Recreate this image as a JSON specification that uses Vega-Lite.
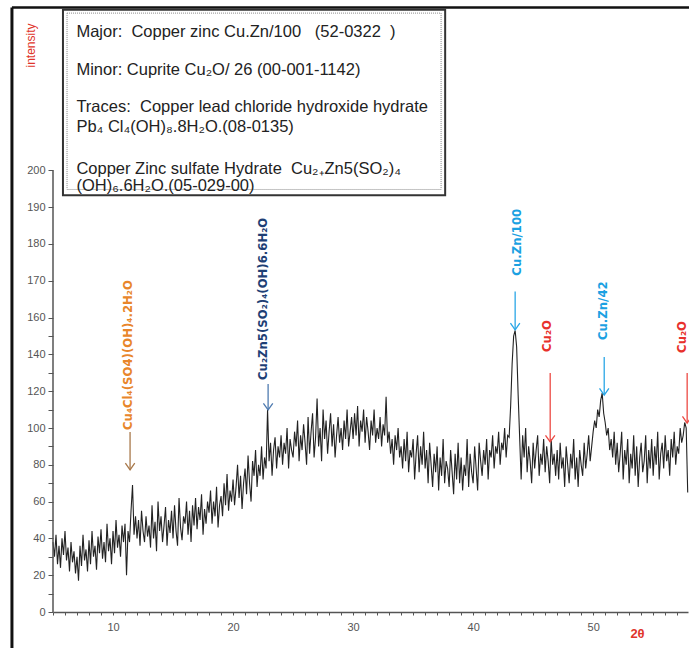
{
"$schema": "https://vega.github.io/schema/vega-lite/v6.json",
"width": 635, "height": 600,
"autosize": "none",
"padding": {"left": 53, "top": 12, "right": 1, "bottom": 36},
"background": "white",
"config": {"view": {"stroke": null},
 "axis": {"grid": false, "labelOverlap": false, "labelBound": false},
 "axisX": {"titleColor": "#e0352b", "titleFont": "Liberation Sans", "titleFontSize": 13, "titleFontWeight": "bold", "titleX": 584, "titleY": 21, "titleAlign": "center", "titleBaseline": "middle",
  "tickSize": 3, "tickColor": "#555", "domainColor": "#555", "domainWidth": 1.5, "labelColor": "#555", "labelFont": "Liberation Sans", "labelFontSize": 11, "labelPadding": 6},
 "axisY": {"titleColor": "#e0352b", "titleFont": "Liberation Sans", "titleFontSize": 12, "titleFontWeight": "normal", "titleX": -23, "titleY": 33, "titleAngle": 270, "titleAlign": "center", "titleBaseline": "middle",
  "domain": false, "tickSize": 5, "tickColor": "#555", "labelColor": "#555", "labelFont": "Liberation Sans", "labelFontSize": 11, "labelPadding": 3}},
"datasets": {
"xrd": [
{"t":5,"v":38},{"t":5.125,"v":30},{"t":5.25,"v":42},{"t":5.375,"v":26},{"t":5.5,"v":36},{"t":5.625,"v":24},{"t":5.75,"v":40},{"t":5.875,"v":31},
{"t":6,"v":44},{"t":6.125,"v":28},{"t":6.25,"v":35},{"t":6.375,"v":22},{"t":6.5,"v":38},{"t":6.625,"v":27},{"t":6.75,"v":33},{"t":6.875,"v":21},
{"t":7,"v":30},{"t":7.125,"v":17},{"t":7.25,"v":36},{"t":7.375,"v":25},{"t":7.5,"v":42},{"t":7.625,"v":28},{"t":7.75,"v":34},{"t":7.875,"v":22},
{"t":8,"v":39},{"t":8.125,"v":26},{"t":8.25,"v":44},{"t":8.375,"v":30},{"t":8.5,"v":36},{"t":8.625,"v":23},{"t":8.75,"v":41},{"t":8.875,"v":32},
{"t":9,"v":45},{"t":9.125,"v":29},{"t":9.25,"v":38},{"t":9.375,"v":27},{"t":9.5,"v":48},{"t":9.625,"v":33},{"t":9.75,"v":40},{"t":9.875,"v":26},
{"t":10,"v":44},{"t":10.125,"v":32},{"t":10.25,"v":50},{"t":10.375,"v":35},{"t":10.5,"v":42},{"t":10.625,"v":30},{"t":10.75,"v":47},{"t":10.875,"v":38},
{"t":11,"v":48},{"t":11.125,"v":20},{"t":11.25,"v":44},{"t":11.375,"v":38},{"t":11.5,"v":55},{"t":11.625,"v":69},{"t":11.75,"v":42},{"t":11.875,"v":52},
{"t":12,"v":40},{"t":12.125,"v":50},{"t":12.25,"v":36},{"t":12.375,"v":55},{"t":12.5,"v":44},{"t":12.625,"v":38},{"t":12.75,"v":52},{"t":12.875,"v":41},
{"t":13,"v":47},{"t":13.125,"v":35},{"t":13.25,"v":58},{"t":13.375,"v":40},{"t":13.5,"v":49},{"t":13.625,"v":33},{"t":13.75,"v":60},{"t":13.875,"v":44},
{"t":14,"v":52},{"t":14.125,"v":38},{"t":14.25,"v":47},{"t":14.375,"v":57},{"t":14.5,"v":36},{"t":14.625,"v":50},{"t":14.75,"v":43},{"t":14.875,"v":55},
{"t":15,"v":40},{"t":15.125,"v":58},{"t":15.25,"v":44},{"t":15.375,"v":36},{"t":15.5,"v":62},{"t":15.625,"v":46},{"t":15.75,"v":39},{"t":15.875,"v":52},
{"t":16,"v":48},{"t":16.125,"v":60},{"t":16.25,"v":42},{"t":16.375,"v":55},{"t":16.5,"v":38},{"t":16.625,"v":58},{"t":16.75,"v":47},{"t":16.875,"v":62},
{"t":17,"v":45},{"t":17.125,"v":57},{"t":17.25,"v":50},{"t":17.375,"v":64},{"t":17.5,"v":42},{"t":17.625,"v":56},{"t":17.75,"v":48},{"t":17.875,"v":60},
{"t":18,"v":54},{"t":18.125,"v":66},{"t":18.25,"v":48},{"t":18.375,"v":60},{"t":18.5,"v":52},{"t":18.625,"v":68},{"t":18.75,"v":46},{"t":18.875,"v":58},
{"t":19,"v":63},{"t":19.125,"v":52},{"t":19.25,"v":70},{"t":19.375,"v":58},{"t":19.5,"v":75},{"t":19.625,"v":55},{"t":19.75,"v":66},{"t":19.875,"v":60},
{"t":20,"v":72},{"t":20.125,"v":58},{"t":20.25,"v":68},{"t":20.375,"v":80},{"t":20.5,"v":62},{"t":20.625,"v":74},{"t":20.75,"v":56},{"t":20.875,"v":70},
{"t":21,"v":78},{"t":21.125,"v":64},{"t":21.25,"v":85},{"t":21.375,"v":70},{"t":21.5,"v":60},{"t":21.625,"v":82},{"t":21.75,"v":74},{"t":21.875,"v":88},
{"t":22,"v":68},{"t":22.125,"v":80},{"t":22.25,"v":74},{"t":22.375,"v":90},{"t":22.5,"v":72},{"t":22.625,"v":84},{"t":22.75,"v":78},{"t":22.875,"v":110},
{"t":23,"v":82},{"t":23.125,"v":92},{"t":23.25,"v":74},{"t":23.375,"v":88},{"t":23.5,"v":95},{"t":23.625,"v":78},{"t":23.75,"v":90},{"t":23.875,"v":84},
{"t":24,"v":96},{"t":24.125,"v":80},{"t":24.25,"v":92},{"t":24.375,"v":86},{"t":24.5,"v":100},{"t":24.625,"v":78},{"t":24.75,"v":94},{"t":24.875,"v":88},
{"t":25,"v":84},{"t":25.125,"v":98},{"t":25.25,"v":90},{"t":25.375,"v":104},{"t":25.5,"v":82},{"t":25.625,"v":96},{"t":25.75,"v":88},{"t":25.875,"v":102},
{"t":26,"v":92},{"t":26.125,"v":80},{"t":26.25,"v":106},{"t":26.375,"v":86},{"t":26.5,"v":98},{"t":26.625,"v":108},{"t":26.75,"v":84},{"t":26.875,"v":95},
{"t":27,"v":116},{"t":27.125,"v":90},{"t":27.25,"v":100},{"t":27.375,"v":82},{"t":27.5,"v":110},{"t":27.625,"v":94},{"t":27.75,"v":104},{"t":27.875,"v":86},
{"t":28,"v":98},{"t":28.125,"v":108},{"t":28.25,"v":90},{"t":28.375,"v":102},{"t":28.5,"v":84},{"t":28.625,"v":96},{"t":28.75,"v":106},{"t":28.875,"v":92},
{"t":29,"v":100},{"t":29.125,"v":88},{"t":29.25,"v":104},{"t":29.375,"v":94},{"t":29.5,"v":110},{"t":29.625,"v":90},{"t":29.75,"v":98},{"t":29.875,"v":106},
{"t":30,"v":94},{"t":30.125,"v":108},{"t":30.25,"v":96},{"t":30.375,"v":112},{"t":30.5,"v":90},{"t":30.625,"v":104},{"t":30.75,"v":98},{"t":30.875,"v":110},
{"t":31,"v":92},{"t":31.125,"v":106},{"t":31.25,"v":98},{"t":31.375,"v":88},{"t":31.5,"v":104},{"t":31.625,"v":96},{"t":31.75,"v":110},{"t":31.875,"v":92},
{"t":32,"v":100},{"t":32.125,"v":94},{"t":32.25,"v":106},{"t":32.375,"v":90},{"t":32.5,"v":102},{"t":32.625,"v":96},{"t":32.75,"v":117},{"t":32.875,"v":92},
{"t":33,"v":98},{"t":33.125,"v":86},{"t":33.25,"v":94},{"t":33.375,"v":80},{"t":33.5,"v":96},{"t":33.625,"v":88},{"t":33.75,"v":100},{"t":33.875,"v":84},
{"t":34,"v":90},{"t":34.125,"v":78},{"t":34.25,"v":94},{"t":34.375,"v":82},{"t":34.5,"v":98},{"t":34.625,"v":76},{"t":34.75,"v":88},{"t":34.875,"v":84},
{"t":35,"v":94},{"t":35.125,"v":72},{"t":35.25,"v":86},{"t":35.375,"v":96},{"t":35.5,"v":76},{"t":35.625,"v":90},{"t":35.75,"v":80},{"t":35.875,"v":98},
{"t":36,"v":78},{"t":36.125,"v":88},{"t":36.25,"v":70},{"t":36.375,"v":92},{"t":36.5,"v":80},{"t":36.625,"v":68},{"t":36.75,"v":86},{"t":36.875,"v":76},
{"t":37,"v":90},{"t":37.125,"v":66},{"t":37.25,"v":84},{"t":37.375,"v":74},{"t":37.5,"v":94},{"t":37.625,"v":70},{"t":37.75,"v":82},{"t":37.875,"v":78},
{"t":38,"v":68},{"t":38.125,"v":88},{"t":38.25,"v":76},{"t":38.375,"v":64},{"t":38.5,"v":86},{"t":38.625,"v":72},{"t":38.75,"v":92},{"t":38.875,"v":70},
{"t":39,"v":84},{"t":39.125,"v":66},{"t":39.25,"v":80},{"t":39.375,"v":74},{"t":39.5,"v":94},{"t":39.625,"v":68},{"t":39.75,"v":86},{"t":39.875,"v":76},
{"t":40,"v":70},{"t":40.125,"v":90},{"t":40.25,"v":78},{"t":40.375,"v":66},{"t":40.5,"v":92},{"t":40.625,"v":82},{"t":40.75,"v":74},{"t":40.875,"v":88},
{"t":41,"v":80},{"t":41.125,"v":94},{"t":41.25,"v":72},{"t":41.375,"v":88},{"t":41.5,"v":84},{"t":41.625,"v":96},{"t":41.75,"v":78},{"t":41.875,"v":90},
{"t":42,"v":86},{"t":42.125,"v":98},{"t":42.25,"v":80},{"t":42.375,"v":92},{"t":42.5,"v":88},{"t":42.625,"v":100},{"t":42.75,"v":84},{"t":42.875,"v":96},
{"t":43,"v":95},{"t":43.125,"v":112},{"t":43.25,"v":135},{"t":43.375,"v":150},{"t":43.5,"v":153},{"t":43.625,"v":144},{"t":43.75,"v":118},{"t":43.875,"v":95},
{"t":44,"v":72},{"t":44.125,"v":96},{"t":44.25,"v":84},{"t":44.375,"v":100},{"t":44.5,"v":76},{"t":44.625,"v":90},{"t":44.75,"v":82},{"t":44.875,"v":70},
{"t":45,"v":92},{"t":45.125,"v":78},{"t":45.25,"v":88},{"t":45.375,"v":96},{"t":45.5,"v":74},{"t":45.625,"v":86},{"t":45.75,"v":80},{"t":45.875,"v":94},
{"t":46,"v":76},{"t":46.125,"v":90},{"t":46.25,"v":82},{"t":46.375,"v":70},{"t":46.5,"v":94},{"t":46.625,"v":80},{"t":46.75,"v":86},{"t":46.875,"v":74},
{"t":47,"v":88},{"t":47.125,"v":72},{"t":47.25,"v":92},{"t":47.375,"v":78},{"t":47.5,"v":84},{"t":47.625,"v":68},{"t":47.75,"v":90},{"t":47.875,"v":80},
{"t":48,"v":70},{"t":48.125,"v":86},{"t":48.25,"v":78},{"t":48.375,"v":94},{"t":48.5,"v":72},{"t":48.625,"v":84},{"t":48.75,"v":68},{"t":48.875,"v":88},
{"t":49,"v":80},{"t":49.125,"v":74},{"t":49.25,"v":92},{"t":49.375,"v":78},{"t":49.5,"v":86},{"t":49.625,"v":96},{"t":49.75,"v":82},{"t":49.875,"v":90},
{"t":50,"v":98},{"t":50.125,"v":104},{"t":50.25,"v":100},{"t":50.375,"v":110},{"t":50.5,"v":106},{"t":50.625,"v":115},{"t":50.75,"v":119},{"t":50.875,"v":108},
{"t":51,"v":103},{"t":51.125,"v":96},{"t":51.25,"v":100},{"t":51.375,"v":88},{"t":51.5,"v":94},{"t":51.625,"v":84},{"t":51.75,"v":98},{"t":51.875,"v":80},
{"t":52,"v":92},{"t":52.125,"v":76},{"t":52.25,"v":86},{"t":52.375,"v":98},{"t":52.5,"v":72},{"t":52.625,"v":88},{"t":52.75,"v":80},{"t":52.875,"v":94},
{"t":53,"v":70},{"t":53.125,"v":86},{"t":53.25,"v":78},{"t":53.375,"v":96},{"t":53.5,"v":74},{"t":53.625,"v":90},{"t":53.75,"v":68},{"t":53.875,"v":84},
{"t":54,"v":92},{"t":54.125,"v":76},{"t":54.25,"v":82},{"t":54.375,"v":96},{"t":54.5,"v":70},{"t":54.625,"v":88},{"t":54.75,"v":78},{"t":54.875,"v":94},
{"t":55,"v":74},{"t":55.125,"v":90},{"t":55.25,"v":80},{"t":55.375,"v":98},{"t":55.5,"v":72},{"t":55.625,"v":86},{"t":55.75,"v":92},{"t":55.875,"v":78},
{"t":56,"v":96},{"t":56.125,"v":82},{"t":56.25,"v":88},{"t":56.375,"v":74},{"t":56.5,"v":94},{"t":56.625,"v":84},{"t":56.75,"v":98},{"t":56.875,"v":80},
{"t":57,"v":90},{"t":57.125,"v":86},{"t":57.25,"v":100},{"t":57.375,"v":92},{"t":57.5,"v":96},{"t":57.625,"v":103},{"t":57.75,"v":100},{"t":57.875,"v":65}
],
"arrows": [
{"t":11.42,"v":97.8,"tip":77.2,"p":"a"},
{"t":22.92,"v":123.9,"tip":109.8,"p":"b"},
{"t":43.5,"v":167.1,"tip":153.3,"p":"c"},
{"t":46.42,"v":129.9,"tip":92.4,"p":"d"},
{"t":50.92,"v":138.6,"tip":117.9,"p":"c"},
{"t":57.83,"v":129.9,"tip":102.7,"p":"d"}
],
"labels": [
{"t":11.25,"v":98.9,"label":"Cu₄Cl₄(SO4)(OH)₄.2H₂O","p":"a"},
{"t":22.5,"v":126.1,"label":"Cu₂Zn5(SO₂)₄(OH)6.6H₂O","p":"b"},
{"t":43.67,"v":171.4,"label":"Cu.Zn/100","p":"c"},
{"t":46.17,"v":141.3,"label":"Cu₂O","p":"d"},
{"t":50.83,"v":147.8,"label":"Cu.Zn/42","p":"c"},
{"t":57.42,"v":140.8,"label":"Cu₂O","p":"d"}
],
"one": [{"k": 1}]
},
"layer": [
{"data": {"name": "xrd"}, "mark": {"type": "line", "color": "#222", "strokeWidth": 1.1},
 "encoding": {
"x": {"field": "t", "type": "quantitative", "scale": {"domain": [5, 57.9], "nice": false, "zero": false},
 "axis": {"title": "2θ", "values": [5,6,7,8,9,10,11,12,13,14,15,16,17,18,19,20,21,22,23,24,25,26,27,28,29,30,31,32,33,34,35,36,37,38,39,40,41,42,43,44,45,46,47,48,49,50,51,52,53,54,55,56,57], "labelExpr": "datum.value % 10 == 0 ? datum.label : ''"}},
"y": {"field": "v", "type": "quantitative", "scale": {"domain": [0, 160, 243], "range": [600, 305.6, 0], "nice": false, "zero": false},
 "axis": {"title": "intensity", "values": [0,10,20,30,40,50,60,70,80,90,100,110,120,130,140,150,160,170,180,190,200], "labelExpr": "(datum.value > 160 || datum.value % 20 == 0) ? datum.label : ''"}}
 }},
{"data": {"name": "one"}, "mark": {"type": "rule", "color": "#111", "strokeWidth": 3},
 "encoding": {
  "x": {"datum": 1.58, "type": "quantitative", "axis": {"title": "2θ", "values": [5,6,7,8,9,10,11,12,13,14,15,16,17,18,19,20,21,22,23,24,25,26,27,28,29,30,31,32,33,34,35,36,37,38,39,40,41,42,43,44,45,46,47,48,49,50,51,52,53,54,55,56,57], "labelExpr": "datum.value % 10 == 0 ? datum.label : ''"}},
  "y": {"datum": 244.2, "type": "quantitative", "axis": {"title": "intensity", "values": [0,10,20,30,40,50,60,70,80,90,100,110,120,130,140,150,160,170,180,190,200], "labelExpr": "(datum.value > 160 || datum.value % 20 == 0) ? datum.label : ''"}},
  "y2": {"datum": -20}}},
{"data": {"name": "one"}, "mark": {"type": "rule", "color": "#111", "strokeWidth": 2.5},
 "encoding": {
  "x": {"datum": 1.58, "type": "quantitative", "axis": {"title": "2θ", "values": [5,6,7,8,9,10,11,12,13,14,15,16,17,18,19,20,21,22,23,24,25,26,27,28,29,30,31,32,33,34,35,36,37,38,39,40,41,42,43,44,45,46,47,48,49,50,51,52,53,54,55,56,57], "labelExpr": "datum.value % 10 == 0 ? datum.label : ''"}},
  "x2": {"datum": 58.2},
  "y": {"datum": 244.2, "type": "quantitative", "axis": {"title": "intensity", "values": [0,10,20,30,40,50,60,70,80,90,100,110,120,130,140,150,160,170,180,190,200], "labelExpr": "(datum.value > 160 || datum.value % 20 == 0) ? datum.label : ''"}}}},
{"data": {"name": "one"}, "mark": {"type": "rule", "color": "#555", "strokeWidth": 1.5},
 "encoding": {
  "x": {"datum": 5, "type": "quantitative", "axis": {"title": "2θ", "values": [5,6,7,8,9,10,11,12,13,14,15,16,17,18,19,20,21,22,23,24,25,26,27,28,29,30,31,32,33,34,35,36,37,38,39,40,41,42,43,44,45,46,47,48,49,50,51,52,53,54,55,56,57], "labelExpr": "datum.value % 10 == 0 ? datum.label : ''"}},
  "y": {"datum": 0, "type": "quantitative", "axis": {"title": "intensity", "values": [0,10,20,30,40,50,60,70,80,90,100,110,120,130,140,150,160,170,180,190,200], "labelExpr": "(datum.value > 160 || datum.value % 20 == 0) ? datum.label : ''"}},
  "y2": {"datum": 200}}},
{"data": {"name": "one"}, "mark": {"type": "rect", "fill": "white", "stroke": "#333", "strokeWidth": 2},
 "encoding": {
  "x": {"datum": 5.83, "type": "quantitative", "axis": {"title": "2θ", "values": [5,6,7,8,9,10,11,12,13,14,15,16,17,18,19,20,21,22,23,24,25,26,27,28,29,30,31,32,33,34,35,36,37,38,39,40,41,42,43,44,45,46,47,48,49,50,51,52,53,54,55,56,57], "labelExpr": "datum.value % 10 == 0 ? datum.label : ''"}},
  "x2": {"datum": 37.67},
  "y": {"datum": 243.6, "type": "quantitative", "axis": {"title": "intensity", "values": [0,10,20,30,40,50,60,70,80,90,100,110,120,130,140,150,160,170,180,190,200], "labelExpr": "(datum.value > 160 || datum.value % 20 == 0) ? datum.label : ''"}},
  "y2": {"datum": 193.2}}},
{"data": {"name": "one"}, "mark": {"type": "rect", "fillOpacity": 0, "stroke": "#888", "strokeWidth": 1, "strokeDash": [1, 1]},
 "encoding": {
  "x": {"datum": 6.17, "type": "quantitative", "axis": {"title": "2θ", "values": [5,6,7,8,9,10,11,12,13,14,15,16,17,18,19,20,21,22,23,24,25,26,27,28,29,30,31,32,33,34,35,36,37,38,39,40,41,42,43,44,45,46,47,48,49,50,51,52,53,54,55,56,57], "labelExpr": "datum.value % 10 == 0 ? datum.label : ''"}},
  "x2": {"datum": 37.33},
  "y": {"datum": 242.7, "type": "quantitative", "axis": {"title": "intensity", "values": [0,10,20,30,40,50,60,70,80,90,100,110,120,130,140,150,160,170,180,190,200], "labelExpr": "(datum.value > 160 || datum.value % 20 == 0) ? datum.label : ''"}},
  "y2": {"datum": 194.8}}},
{"data": {"name": "one"}, "mark": {"type": "text", "font": "Liberation Sans", "fontSize": 16.5, "color": "#222", "align": "left", "baseline": "middle",
  "text": "Major:\u00a0 Copper zinc Cu.Zn/100\u00a0\u00a0 (52-0322\u00a0 )"},
 "encoding": {
  "x": {"datum": 6.95, "type": "quantitative", "axis": {"title": "2θ", "values": [5,6,7,8,9,10,11,12,13,14,15,16,17,18,19,20,21,22,23,24,25,26,27,28,29,30,31,32,33,34,35,36,37,38,39,40,41,42,43,44,45,46,47,48,49,50,51,52,53,54,55,56,57], "labelExpr": "datum.value % 10 == 0 ? datum.label : ''"}},
  "y": {"datum": 237.5, "type": "quantitative", "axis": {"title": "intensity", "values": [0,10,20,30,40,50,60,70,80,90,100,110,120,130,140,150,160,170,180,190,200], "labelExpr": "(datum.value > 160 || datum.value % 20 == 0) ? datum.label : ''"}}}},
{"data": {"name": "one"}, "mark": {"type": "text", "font": "Liberation Sans", "fontSize": 16.5, "color": "#222", "align": "left", "baseline": "middle",
  "text": "Minor: Cuprite Cu₂O/ 26 (00-001-1142)"},
 "encoding": {
  "x": {"datum": 6.95, "type": "quantitative", "axis": {"title": "2θ", "values": [5,6,7,8,9,10,11,12,13,14,15,16,17,18,19,20,21,22,23,24,25,26,27,28,29,30,31,32,33,34,35,36,37,38,39,40,41,42,43,44,45,46,47,48,49,50,51,52,53,54,55,56,57], "labelExpr": "datum.value % 10 == 0 ? datum.label : ''"}},
  "y": {"datum": 227.2, "type": "quantitative", "axis": {"title": "intensity", "values": [0,10,20,30,40,50,60,70,80,90,100,110,120,130,140,150,160,170,180,190,200], "labelExpr": "(datum.value > 160 || datum.value % 20 == 0) ? datum.label : ''"}}}},
{"data": {"name": "one"}, "mark": {"type": "text", "font": "Liberation Sans", "fontSize": 16.5, "color": "#222", "align": "left", "baseline": "top", "lineHeight": 20,
  "text": ["Traces:\u00a0 Copper lead chloride hydroxide hydrate", "Pb₄ Cl₄(OH)₈.8H₂O.(08-0135)"]},
 "encoding": {
  "x": {"datum": 6.95, "type": "quantitative", "axis": {"title": "2θ", "values": [5,6,7,8,9,10,11,12,13,14,15,16,17,18,19,20,21,22,23,24,25,26,27,28,29,30,31,32,33,34,35,36,37,38,39,40,41,42,43,44,45,46,47,48,49,50,51,52,53,54,55,56,57], "labelExpr": "datum.value % 10 == 0 ? datum.label : ''"}},
  "y": {"datum": 219.4, "type": "quantitative", "axis": {"title": "intensity", "values": [0,10,20,30,40,50,60,70,80,90,100,110,120,130,140,150,160,170,180,190,200], "labelExpr": "(datum.value > 160 || datum.value % 20 == 0) ? datum.label : ''"}}}},
{"data": {"name": "one"}, "mark": {"type": "text", "font": "Liberation Sans", "fontSize": 16.5, "color": "#222", "align": "left", "baseline": "top", "lineHeight": 17,
  "text": ["Copper Zinc sulfate Hydrate\u00a0 Cu₂₊Zn5(SO₂)₄", "(OH)₆.6H₂O.(05-029-00)"]},
 "encoding": {
  "x": {"datum": 6.95, "type": "quantitative", "axis": {"title": "2θ", "values": [5,6,7,8,9,10,11,12,13,14,15,16,17,18,19,20,21,22,23,24,25,26,27,28,29,30,31,32,33,34,35,36,37,38,39,40,41,42,43,44,45,46,47,48,49,50,51,52,53,54,55,56,57], "labelExpr": "datum.value % 10 == 0 ? datum.label : ''"}},
  "y": {"datum": 202.6, "type": "quantitative", "axis": {"title": "intensity", "values": [0,10,20,30,40,50,60,70,80,90,100,110,120,130,140,150,160,170,180,190,200], "labelExpr": "(datum.value > 160 || datum.value % 20 == 0) ? datum.label : ''"}}}},
{"data": {"name": "arrows"}, "mark": {"type": "rule", "strokeWidth": 1.3},
 "encoding": {
  "x": {"field": "t", "type": "quantitative", "axis": {"title": "2θ", "values": [5,6,7,8,9,10,11,12,13,14,15,16,17,18,19,20,21,22,23,24,25,26,27,28,29,30,31,32,33,34,35,36,37,38,39,40,41,42,43,44,45,46,47,48,49,50,51,52,53,54,55,56,57], "labelExpr": "datum.value % 10 == 0 ? datum.label : ''"}},
  "y": {"field": "v", "type": "quantitative", "axis": {"title": "intensity", "values": [0,10,20,30,40,50,60,70,80,90,100,110,120,130,140,150,160,170,180,190,200], "labelExpr": "(datum.value > 160 || datum.value % 20 == 0) ? datum.label : ''"}},
  "y2": {"field": "tip"},
  "color": {"field": "p", "type": "nominal", "legend": null, "scale": {"domain": ["a","b","c","d"], "range": ["#a8784a", "#4f7bb0", "#2aa6e6", "#ec4a44"]}}}},
{"data": {"name": "arrows"}, "mark": {"type": "point", "shape": "M-0.7,-1L0,0L0.7,-1", "filled": false, "size": 180, "strokeWidth": 1.3, "opacity": 1},
 "encoding": {
  "x": {"field": "t", "type": "quantitative", "axis": {"title": "2θ", "values": [5,6,7,8,9,10,11,12,13,14,15,16,17,18,19,20,21,22,23,24,25,26,27,28,29,30,31,32,33,34,35,36,37,38,39,40,41,42,43,44,45,46,47,48,49,50,51,52,53,54,55,56,57], "labelExpr": "datum.value % 10 == 0 ? datum.label : ''"}},
  "y": {"field": "tip", "type": "quantitative", "axis": {"title": "intensity", "values": [0,10,20,30,40,50,60,70,80,90,100,110,120,130,140,150,160,170,180,190,200], "labelExpr": "(datum.value > 160 || datum.value % 20 == 0) ? datum.label : ''"}},
  "color": {"field": "p", "type": "nominal", "legend": null, "scale": {"domain": ["a","b","c","d"], "range": ["#a8784a", "#4f7bb0", "#2aa6e6", "#ec4a44"]}}}},
{"data": {"name": "labels"}, "mark": {"type": "text", "angle": 270, "align": "left", "baseline": "middle", "font": "DejaVu Sans Condensed", "fontWeight": "bold", "fontSize": 13},
 "encoding": {
  "x": {"field": "t", "type": "quantitative", "axis": {"title": "2θ", "values": [5,6,7,8,9,10,11,12,13,14,15,16,17,18,19,20,21,22,23,24,25,26,27,28,29,30,31,32,33,34,35,36,37,38,39,40,41,42,43,44,45,46,47,48,49,50,51,52,53,54,55,56,57], "labelExpr": "datum.value % 10 == 0 ? datum.label : ''"}},
  "y": {"field": "v", "type": "quantitative", "axis": {"title": "intensity", "values": [0,10,20,30,40,50,60,70,80,90,100,110,120,130,140,150,160,170,180,190,200], "labelExpr": "(datum.value > 160 || datum.value % 20 == 0) ? datum.label : ''"}},
  "text": {"field": "label"},
  "color": {"field": "p", "type": "nominal", "legend": null, "scale": {"domain": ["a","b","c","d"], "range": ["#e8862a", "#1e3f75", "#1ba1e2", "#e8312c"]}}}}
],
"resolve": {"scale": {"color": "independent"}}
}
